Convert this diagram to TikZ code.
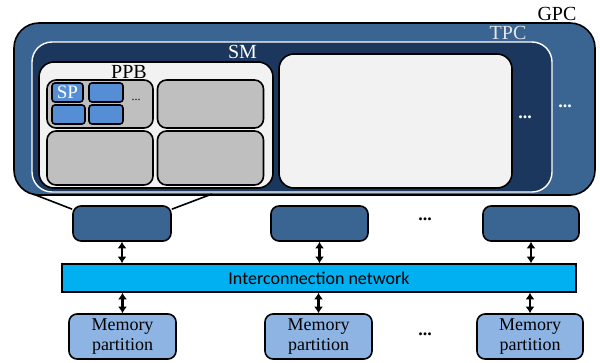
\documentclass[tikz,border=0pt]{standalone}
\usepackage{fontspec}
\setmainfont{Liberation Serif}
\newfontfamily\netfont{Carlito}
\usetikzlibrary{arrows.meta}

\definecolor{gpcblue}{HTML}{3A6592}
\definecolor{tpcblue}{HTML}{1B375E}
\definecolor{smgray}{HTML}{F2F2F2}
\definecolor{ppbgray}{HTML}{BFBFBF}
\definecolor{spblue}{HTML}{558ED5}
\definecolor{netcyan}{HTML}{00B0F0}
\definecolor{memblue}{HTML}{8EB4E3}

\tikzset{
	sz/.style 2 args={minimum width=#1pt, minimum height=#2pt},
	box/.style={draw=black, line width=1.6pt, rounded corners=#1, inner sep=0pt},
	gpcbox/.style={box=25pt, fill=gpcblue},
	tpcbox/.style={draw=white, line width=1.4pt, rounded corners=20pt, fill=tpcblue, inner sep=0pt},
	smbox/.style={box=15pt, fill=smgray},
	ppbbox/.style={box=9pt, fill=ppbgray},
	spbox/.style={box=3pt, fill=spblue, text=white, font=\fontsize{19}{20}\selectfont},
	cachebox/.style={box=8pt, fill=gpcblue},
	netbox/.style={draw=black, line width=1.6pt, fill=netcyan, inner sep=0pt, font=\netfont\fontsize{18}{20}\selectfont},
	membox/.style={box=8pt, fill=memblue, align=center, font=\fontsize{18}{20}\selectfont},
	lbl/.style={inner sep=0pt, font=\fontsize{20}{22}\selectfont},
	dots/.style={inner sep=0pt, font=\bfseries\fontsize{18}{20}\selectfont},
	biarrow/.style={line width=2.4pt, {Latex[length=6.5pt,width=9pt]}-{Latex[length=6.5pt,width=9pt]}}
}

\begin{document}
\begin{tikzpicture}[x=1pt,y=-1pt]
	\useasboundingbox (0,0) rectangle (600,362);
	
	\node[gpcbox,sz={581}{172}] (gpc) at (304.5,109) {};
	\node[tpcbox,sz={520}{150}] (tpc) at (292,117) {};
	\node[smbox,sz={234}{126}] (sm1) at (156,125) {};
	\node[smbox,sz={233}{134}] (sm2) at (395.5,121) {};
	
	\node[lbl] (gpclbl) at (557,14) {GPC};
	\node[lbl,text=white!90!black] (tpclbl) at (508,33) {TPC};
	\node[lbl,text=white] (smlbl) at (242.5,52) {SM};
	\node[lbl] (ppblbl) at (129,72) {PPB};
	
	\foreach \name/\x/\y/\h in {ppb1/100/104/48, ppb2/210.5/104/48, ppb3/100/158/54, ppb4/210.5/158/54}
		\node[ppbbox,sz={106}{\h}] (\name) at (\x,\y) {};
	
	\foreach \name/\x/\y/\w/\txt in {sp1/67.5/92.5/31/SP, sp2/106/92.5/34/{}, sp3/68.5/114.5/33/{}, sp4/106/114.5/34/{}}
		\node[spbox,sz={\w}{19}] (\name) at (\x,\y) {\txt};
	
	\node[dots,font=\fontsize{12}{12}\selectfont] (ppbdots) at (136,100) {...};
	\node[dots,text=white] (tpcdots) at (525,117) {...};
	\node[dots,text=white] (gpcdots) at (565,106) {...};
	
	% caches, network and memory
	\foreach \name/\x/\w in {c1/122/98, c2/319.5/97, c3/531/96}
		\node[cachebox,sz={\w}{35}] (\name) at (\x,223.5) {};
	\node[dots] (cdots) at (425,219) {...};
	
	\node[netbox,sz={514}{28}] (net) at (319,278) {Interconnection network};
	
	\foreach \name/\x/\w in {m1/122.5/107, m2/318.5/107, m3/530/106}
		\node[membox,sz={\w}{45}] (\name) at (\x,336.5) {Memory\\partition};
	\node[dots] (mdots) at (425,334) {...};
	
	\coordinate (zl) at (33,194);
	\coordinate (zr) at (212,194);
	\draw[line width=1.6pt] (zl) -- ([yshift=-4pt]c1.north west);
	\draw[line width=1.6pt] (zr) -- ([yshift=-4pt]c1.north east);
	
	\foreach \i in {1,2,3}{
		\draw[biarrow] (c\i.south) -- (c\i.south |- net.north);
		\draw[biarrow] (m\i.north |- net.south) -- (m\i.north);
	}
\end{tikzpicture}
\end{document}
